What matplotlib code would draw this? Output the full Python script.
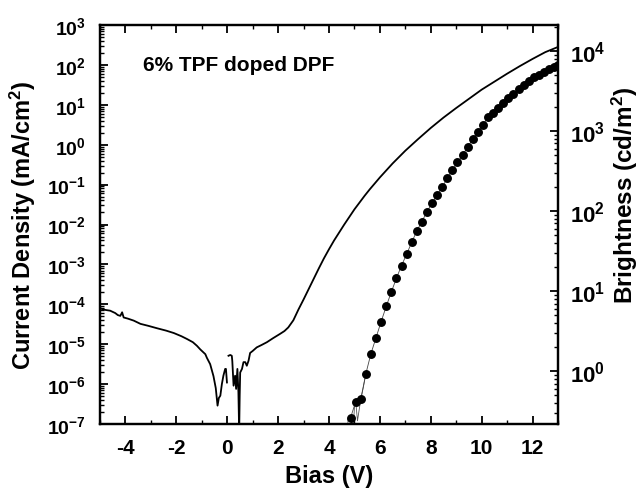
import numpy as np
import matplotlib
matplotlib.use("Agg")
import matplotlib.pyplot as plt
from matplotlib.ticker import FixedLocator, FuncFormatter, LogLocator, NullFormatter

plt.rcParams['font.family'] = ['Liberation Sans', 'DejaVu Sans']
plt.rcParams['font.weight'] = 'bold'
plt.rcParams['mathtext.fontset'] = 'custom'
plt.rcParams['mathtext.rm'] = 'Liberation Sans:bold'
plt.rcParams['mathtext.bf'] = 'Liberation Sans:bold'
plt.rcParams['mathtext.it'] = 'Liberation Sans:bold'

# ---- data: current density (log10 of mA/cm^2) vs bias ----
bias_j_neg = [-5.0, -4.8, -4.6, -4.4, -4.3, -4.2, -4.13, -4.07, -3.9, -3.67, -3.41,
              -3.1, -2.76, -2.4, -2.1, -1.8, -1.58, -1.35, -1.19, -1.06, -0.86,
              -0.8, -0.67, -0.54, -0.45, -0.38, -0.33, -0.27, -0.21, -0.15, -0.08, -0.05, -0.01]
logj_neg = [-4.10, -4.14, -4.16, -4.22, -4.27, -4.29, -4.20, -4.33, -4.36, -4.41, -4.49,
            -4.54, -4.60, -4.66, -4.72, -4.80, -4.87, -4.95, -5.04, -5.13, -5.25,
            -5.34, -5.50, -5.80, -6.10, -6.54, -6.35, -6.29, -6.00, -5.79, -5.62, -5.62, -5.96]

bias_j_pos = [0.05, 0.12, 0.18, 0.2, 0.25, 0.31, 0.35, 0.4, 0.44, 0.47, 0.49, 0.51, 0.58,
              0.64, 0.71, 0.77, 0.84, 0.9, 1.0, 1.16, 1.35, 1.56, 1.8, 2.08, 2.25, 2.4,
              2.6, 2.8, 3.0, 3.2, 3.4, 3.6, 3.8, 4.0, 4.2, 4.4, 4.6, 4.8, 5.0, 5.2, 5.4,
              5.6, 5.8, 6.0, 6.5, 7.0, 7.5, 8.0, 8.5, 9.0, 9.5, 10.0, 10.5, 11.0, 11.5,
              12.0, 12.5, 13.0]
logj_pos = [-5.29, -5.27, -5.29, -5.42, -6.04, -5.79, -6.12, -5.62, -6.2, -7.2, -6.3, -5.71, -5.62,
            -5.45, -5.45, -5.54, -5.41, -5.22, -5.17, -5.08, -5.02, -4.95, -4.85, -4.74, -4.67, -4.58,
            -4.40, -4.13, -3.88, -3.62, -3.36, -3.10, -2.85, -2.62, -2.40, -2.20, -2.00, -1.81, -1.62, -1.45, -1.28,
            -1.12, -0.97, -0.82, -0.47, -0.15, 0.14, 0.42, 0.68, 0.92, 1.15, 1.38, 1.58, 1.78, 1.97,
            2.15, 2.32, 2.45]

# ---- data: brightness (log10 of cd/m^2) vs bias ----
bias_l = [4.85, 5.05, 5.25, 5.45, 5.65, 5.85, 6.05, 6.25, 6.45, 6.65, 6.85, 7.05, 7.25,
          7.45, 7.65, 7.85, 8.05, 8.25, 8.45, 8.65, 8.85, 9.05, 9.25, 9.45, 9.65, 9.85,
          10.05, 10.25, 10.45, 10.65, 10.85, 11.05, 11.25, 11.45, 11.65, 11.85, 12.05,
          12.25, 12.45, 12.65, 12.85, 13.0]
logl = [-0.58, -0.38, -0.35, -0.03, 0.22, 0.42, 0.62, 0.81, 0.99, 1.16, 1.32, 1.46, 1.61,
        1.75, 1.87, 1.99, 2.10, 2.20, 2.30, 2.41, 2.51, 2.61, 2.70, 2.80, 2.90, 2.99,
        3.08, 3.17, 3.23, 3.29, 3.35, 3.41, 3.46, 3.52, 3.57, 3.63, 3.67,
        3.70, 3.74, 3.77, 3.80, 3.82]
bias_l_raw = [4.7, 4.75, 4.85, 4.95, 5.0, 5.05, 5.12, 5.25, 5.35, 5.45]
logl_raw = [-0.9, -0.6, -0.58, -0.75, -0.45, -0.38, -0.62, -0.35, -0.2, -0.03]

fig = plt.figure(figsize=(6.43, 4.89), dpi=100)
ax = fig.add_axes([0.1555, 0.1309, 0.7123, 0.8159])

ax.plot(bias_j_neg, 10 ** np.array(logj_neg), color='black', lw=1.3)
ax.plot(bias_j_pos, 10 ** np.array(logj_pos), color='black', lw=1.3)
ax.set_yscale('log')
ax.set_xlim(-5, 13)
ax.set_ylim(1e-7, 1e3)

ax2 = ax.twinx()
ax2.plot(bias_l_raw, 10 ** np.array(logl_raw), color='#555555', lw=0.6)
ax2.plot(bias_l, 10 ** np.array(logl), color='#444444', lw=0.6, marker='o',
         markersize=5.4, markerfacecolor='black', markeredgecolor='black')
ax2.set_yscale('log')
ax2.set_ylim(10 ** -0.66, 10 ** 4.325)
ax2.set_xlim(-5, 13)

def fmt(v, pos):
    e = int(round(np.log10(v)))
    return r'$\mathbf{10^{%d}}$' % e

ax.yaxis.set_major_locator(FixedLocator([10.0 ** e for e in range(-7, 4)]))
ax.yaxis.set_major_formatter(FuncFormatter(fmt))
ax.yaxis.set_minor_locator(LogLocator(base=10, subs=np.arange(2, 10), numticks=50))
ax.yaxis.set_minor_formatter(NullFormatter())

ax2.yaxis.set_major_locator(FixedLocator([10.0 ** e for e in range(0, 5)]))
ax2.yaxis.set_major_formatter(FuncFormatter(fmt))
ax2.yaxis.set_minor_locator(LogLocator(base=10, subs=np.arange(2, 10), numticks=50))
ax2.yaxis.set_minor_formatter(NullFormatter())

ax.set_xticks([-4, -2, 0, 2, 4, 6, 8, 10, 12])
ax.set_xticklabels(['-4', '-2', '0', '2', '4', '6', '8', '10', '12'])
ax.set_xticks(np.arange(-5, 14, 1), minor=True)

ax.tick_params(axis='both', which='major', direction='in', length=6, width=1.3,
               labelsize=15, top=True, right=False)
ax.tick_params(axis='both', which='minor', direction='in', length=3, width=1.0,
               top=True, right=False)
ax.tick_params(axis='x', pad=10)
ax.tick_params(axis='y', labelsize=14, pad=10)
ax2.tick_params(axis='y', which='major', direction='in', length=6, width=1.3, labelsize=16, pad=9)
ax2.tick_params(axis='y', which='minor', direction='in', length=3, width=1.0)

for a in (ax, ax2):
    for s in a.spines.values():
        s.set_linewidth(1.6)

for lab in ax.get_xticklabels():
    lab.set_fontweight('bold')

ax.set_xlabel('Bias (V)', fontsize=17, fontweight='bold', labelpad=5)
ax.set_ylabel('Current Density (mA/cm$^\\mathbf{2}$)', fontsize=17, fontweight='bold', labelpad=6)
ax2.set_ylabel('Brightness (cd/m$^\\mathbf{2}$)', fontsize=17.5, fontweight='bold', labelpad=3)
ax2.yaxis.label.set_y(0.575)

ax.text(0.095, 0.9, '6% TPF doped DPF', transform=ax.transAxes, fontsize=15,
        fontweight='bold', va='center', ha='left')

fig.savefig('out.png', dpi=100)
